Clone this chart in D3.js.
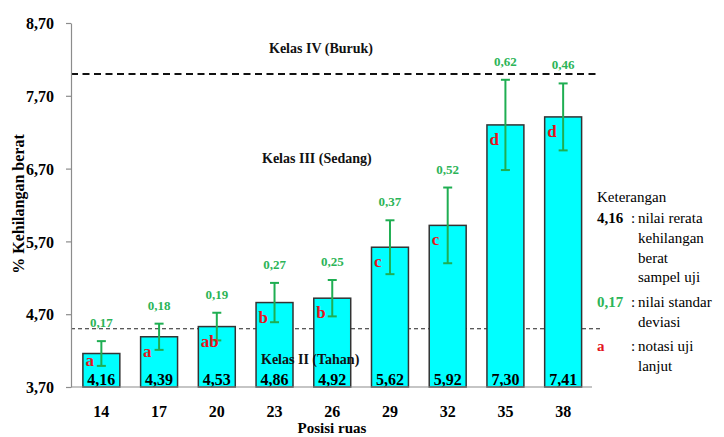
<!DOCTYPE html>
<html>
<head>
<meta charset="utf-8">
<script src="https://cdn.jsdelivr.net/npm/d3@7"></script>
<style>
  html, body { margin: 0; padding: 0; background: #fff; }
</style>
</head>
<body>
<svg id="chart" width="724" height="437" font-family="Liberation Serif, Times New Roman, serif"></svg>
<script>
// Posisi ruas and the mean weight loss (%) for each position
const positions = ["14", "17", "20", "23", "26", "29", "32", "35", "38"];
const means = [4.16, 4.39, 4.53, 4.86, 4.92, 5.62, 5.92, 7.30, 7.41];
const stdDevs = [0.17, 0.18, 0.19, 0.27, 0.25, 0.37, 0.52, 0.62, 0.46];
const notations = ["a", "a", "ab", "b", "b", "c", "c", "d", "d"];

// Y axis ticks
const yTicks = [3.7, 4.7, 5.7, 6.7, 7.7, 8.7];

// Class boundaries and class names
const boundaries = [8.0, 4.5];
const classNames = ["Kelas IV (Buruk)", "Kelas III (Sedang)", "Kelas II (Tahan)"];
const classValues = [8.35, 6.85, 4.08];

// Legend lines
const legendTitle = "Keterangan";
const legendItems = [
  { key: "4,16", lines: ["nilai rerata", "kehilangan", "berat", "sampel uji"] },
  { key: "0,17", lines: ["nilai standar", "deviasi"] },
  { key: "a", lines: ["notasi uji", "lanjut"] }
];

const FONT = "Liberation Serif, Times New Roman, serif";
const fmt = v => d3.format(".2f")(v).replace(".", ",");

const svg = d3.select("#chart");
const axisX = 71, plotRight = 592;

const x = d3.scaleBand().domain(positions).range([72.5, 592]).paddingInner(0.36).paddingOuter(0.18);
const y = d3.scaleLinear().domain([3.7, 8.7]).range([387, 23]);

const greenLine = "#1fae52";
const greenText = "#2cb457";
const red = "#e3141c";

// Class boundary lines
svg.append("line")
  .attr("x1", axisX).attr("x2", 600)
  .attr("y1", y(boundaries[0])).attr("y2", y(boundaries[0]))
  .attr("stroke", "#111").attr("stroke-width", 2).attr("stroke-dasharray", "7,4.5");
svg.append("line")
  .attr("x1", axisX).attr("x2", 600)
  .attr("y1", y(boundaries[1])).attr("y2", y(boundaries[1]))
  .attr("stroke", "#222").attr("stroke-width", 1).attr("stroke-dasharray", "4,3");

// Bars
const data = positions.map((p, i) => ({ p, m: means[i], sd: stdDevs[i], n: notations[i] }));

svg.append("g").selectAll("rect").data(data).join("rect")
  .attr("x", d => x(d.p))
  .attr("y", d => y(d.m))
  .attr("width", x.bandwidth())
  .attr("height", d => y(3.7) - y(d.m))
  .attr("fill", "#00ffff")
  .attr("stroke", "#333")
  .attr("stroke-width", 1.5);

// Class names
svg.append("g").attr("font-family", FONT).selectAll("text").data(classNames).join("text")
  .attr("x", (d, i) => i === 0 ? 269 : (i === 1 ? 262 : 261))
  .attr("y", (d, i) => y(classValues[i]) + 5)
  .attr("font-size", 14).attr("font-weight", "bold").attr("fill", "#111")
  .text(d => d);

// Error bars
const eb = svg.append("g").selectAll("g").data(data).join("g");
const cx = d => x(d.p) + x.bandwidth() / 2;
eb.append("line")
  .attr("x1", cx).attr("x2", cx)
  .attr("y1", d => y(d.m + d.sd)).attr("y2", d => y(d.m - d.sd))
  .attr("stroke", greenLine).attr("stroke-width", 2);
eb.selectAll("line.cap").data(d => [[d, d.m + d.sd], [d, d.m - d.sd]]).join("line")
  .attr("class", "cap")
  .attr("x1", e => cx(e[0]) - 4.5).attr("x2", e => cx(e[0]) + 4.5)
  .attr("y1", e => y(e[1])).attr("y2", e => y(e[1]))
  .attr("stroke", greenLine).attr("stroke-width", 2);

// Standard deviation labels
svg.append("g").attr("font-family", FONT).selectAll("text").data(data).join("text")
  .attr("x", cx)
  .attr("y", d => y(d.m + d.sd) - 14)
  .attr("text-anchor", "middle")
  .attr("font-size", 13).attr("font-weight", "bold").attr("fill", greenText)
  .text(d => fmt(d.sd));

// Notation letters, kept clear of the value label at the bar foot
svg.append("g").attr("font-family", FONT).selectAll("text").data(data).join("text")
  .attr("x", d => x(d.p) + 2.5)
  .attr("y", d => Math.min(y(d.m) + 20, 366))
  .attr("font-size", 17).attr("font-weight", "bold").attr("fill", red)
  .text(d => d.n);

// Mean values inside the bars
svg.append("g").attr("font-family", FONT).selectAll("text").data(data).join("text")
  .attr("x", cx)
  .attr("y", 385)
  .attr("text-anchor", "middle")
  .attr("font-size", 16).attr("font-weight", "bold").attr("fill", "#000")
  .text(d => fmt(d.m));

// Y axis
const yAxis = svg.append("g").attr("transform", `translate(${axisX},0)`)
  .call(d3.axisLeft(y).tickValues(yTicks).tickSize(5).tickSizeOuter(0).tickFormat(fmt));
yAxis.attr("font-family", FONT);
yAxis.select(".domain").attr("stroke", "#8c8c8c").attr("stroke-width", 1.2);
yAxis.selectAll(".tick line").attr("stroke", "#8c8c8c").attr("stroke-width", 1.2);
yAxis.selectAll(".tick text")
  .attr("x", -17).attr("dy", "0.35em")
  .attr("font-size", 16).attr("font-weight", "bold").attr("fill", "#000");

// X axis
svg.append("line")
  .attr("x1", axisX).attr("x2", plotRight)
  .attr("y1", y(3.7)).attr("y2", y(3.7))
  .attr("stroke", "#8c8c8c").attr("stroke-width", 1.2);
svg.append("g").attr("font-family", FONT).selectAll("text").data(positions).join("text")
  .attr("x", d => x(d) + x.bandwidth() / 2)
  .attr("y", 416.5)
  .attr("text-anchor", "middle")
  .attr("font-size", 16).attr("font-weight", "bold").attr("fill", "#000")
  .text(d => d);

// Axis titles
svg.append("text")
  .attr("font-family", FONT)
  .attr("x", 332).attr("y", 433)
  .attr("text-anchor", "middle")
  .attr("font-size", 15).attr("font-weight", "bold").attr("fill", "#000")
  .text("Posisi ruas");
svg.append("text")
  .attr("font-family", FONT)
  .attr("transform", "translate(24,204) rotate(-90)")
  .attr("text-anchor", "middle")
  .attr("font-size", 16).attr("font-weight", "bold").attr("fill", "#000")
  .text("% Kehilangan berat");

// Legend
const lg = svg.append("g").attr("font-family", FONT).attr("font-size", 15);
lg.append("text").attr("x", 597).attr("y", 202).attr("fill", "#000").text(legendTitle);
const keyColors = ["#000", greenText, red];
let row = 0;
legendItems.forEach((item, i) => {
  const yy0 = 223 + row * 20.3 + i * 3;
  lg.append("text").attr("x", 597).attr("y", yy0)
    .attr("font-weight", "bold").attr("fill", keyColors[i]).text(item.key);
  lg.append("text").attr("x", 631).attr("y", yy0).attr("fill", "#000").text(":");
  item.lines.forEach((ln, j) => {
    lg.append("text").attr("x", 638).attr("y", yy0 + j * 19.8).attr("fill", "#000").text(ln);
  });
  row += item.lines.length;
});
</script>
</body>
</html>
